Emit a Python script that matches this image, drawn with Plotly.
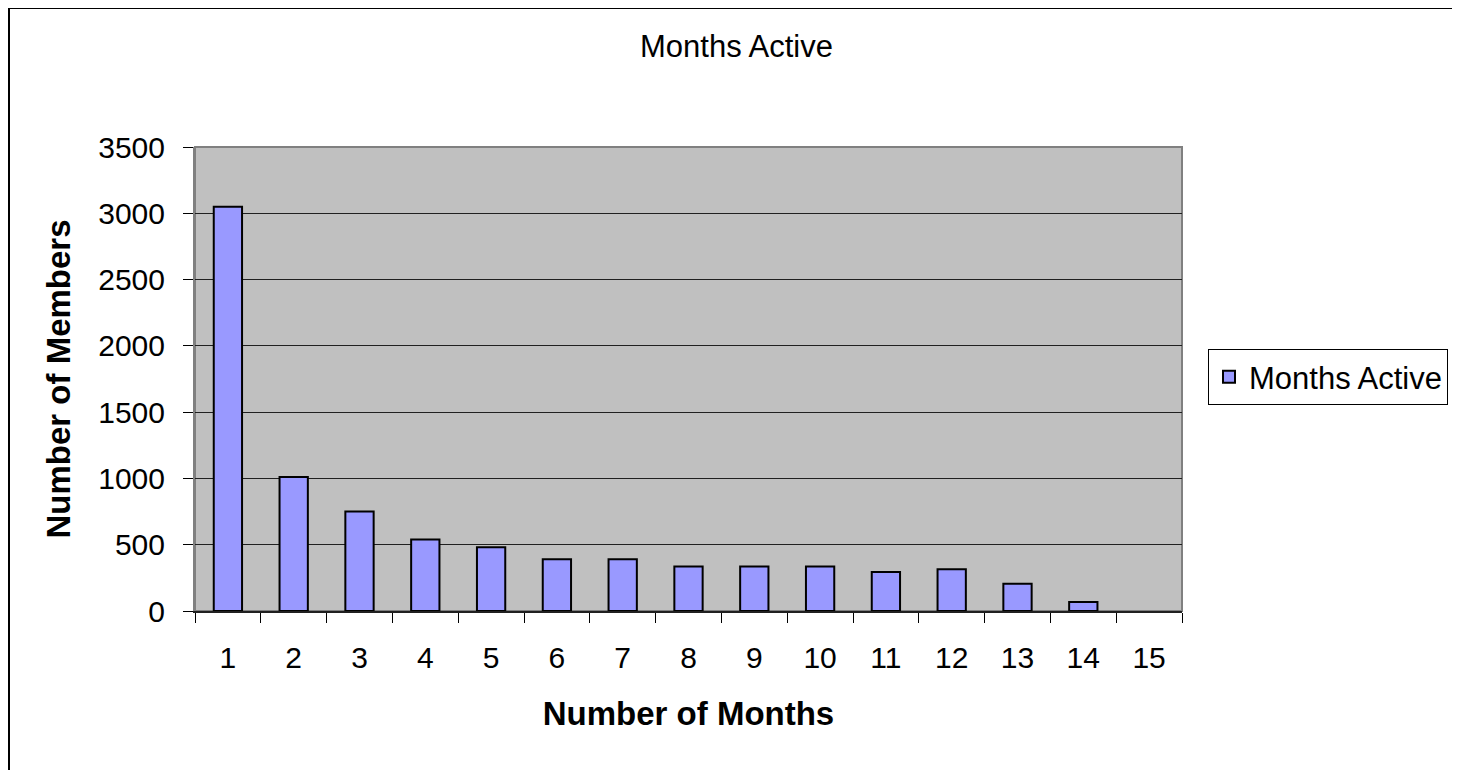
import plotly.graph_objects as go

months = [str(i) for i in range(1, 16)]
members = [3050, 1010, 750, 540, 480, 390, 390, 335, 335, 335, 295, 315, 205, 68, 0]
y_ticks = [0, 500, 1000, 1500, 2000, 2500, 3000, 3500]

FONT = "Liberation Sans, Arial, sans-serif"

outline_widths = [2 if v > 0 else 0 for v in members]

fig = go.Figure()
fig.add_trace(go.Bar(
    x=months, y=members, name="Months Active",
    marker=dict(color="#9999FF", line=dict(color="#000000", width=outline_widths)),
))

# figure is offset by the 8px body margin of the page
W, H = 1452, 762
L, T = 187, 139
R = W - 1174
B = H - 603
pw, ph = W - L - R, H - T - B

fig.update_layout(
    width=W, height=H,
    margin=dict(l=L, r=R, t=T, b=B, pad=0),
    paper_bgcolor="white", plot_bgcolor="#C0C0C0",
    font=dict(family=FONT, color="black", size=30),
    bargap=0.57,
    showlegend=True,
    title=dict(text="Months Active", x=728.5 / W, xanchor="center",
               y=1 - 38.5 / H, yanchor="middle", font=dict(size=31)),
    legend=dict(x=(1200 - L) / pw, y=(603 - 369) / ph, xanchor="left", yanchor="middle",
                bordercolor="black", borderwidth=1, bgcolor="white",
                font=dict(size=31), itemwidth=30, entrywidth=270, entrywidthmode="pixels"),
    xaxis=dict(type="category", tickson="boundaries", ticks="outside", ticklen=10,
               tickcolor="black", showline=True, linecolor="#202020", linewidth=2,
               showgrid=False,
               title=dict(text="<b>Number of Months</b>", standoff=29, font=dict(size=33)),
               tickfont=dict(size=30), ticklabelstandoff=19),
    yaxis=dict(range=[0, 3500], tickvals=y_ticks, ticks="outside", ticklen=10,
               tickcolor="black", showline=True, linecolor="#808080", linewidth=2,
               showgrid=True, gridcolor="#202020", gridwidth=1, zeroline=False,
               title=dict(text="<b>Number of Members</b>", standoff=18, font=dict(size=33)),
               tickfont=dict(size=30), ticklabelstandoff=12),
)
# gray plot-area border (top/right)
fig.add_shape(type="rect", xref="paper", yref="paper", x0=0, x1=1, y0=0, y1=1,
              line=dict(color="#808080", width=2), layer="below")
# outer chart border
fig.add_shape(type="rect", xref="paper", yref="paper",
              x0=(1 - L) / pw, x1=(W + 20 - L) / pw, y0=(603 - H - 20) / ph, y1=(603 - 0) / ph,
              line=dict(color="black", width=2), layer="above")

fig.write_html("out.html")
